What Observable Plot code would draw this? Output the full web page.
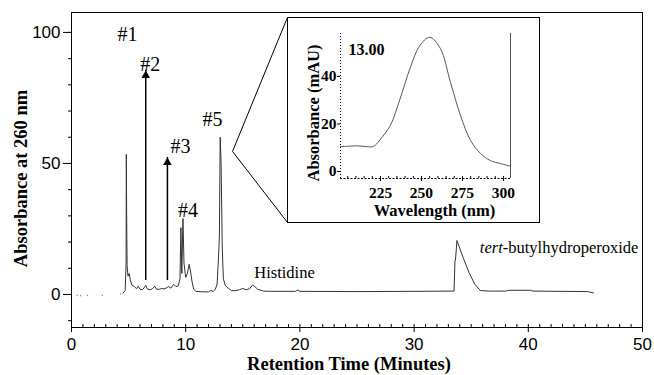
<!DOCTYPE html>
<html>
<head>
<meta charset="utf-8">
<script src="https://cdn.jsdelivr.net/npm/d3@7"></script>
<script src="https://cdn.jsdelivr.net/npm/@observablehq/plot@0.6"></script>
<style>
  html, body { margin: 0; padding: 0; background: #fff; }
  #wrap { position: relative; width: 654px; height: 375px; overflow: hidden; }
  #inset { position: absolute; left: 287px; top: 17px; width: 251px; height: 204px;
           border: 1px solid #000; background: #fff; }
  #inset svg, #main svg { display: block; }
</style>
</head>
<body>
<div id="wrap">
  <div id="main"></div>
  <div id="inset"></div>
</div>
<script>
// ---- Main chromatogram (Retention time in minutes, absorbance at 260 nm) ----
const traceTime = [4.5, 4.7, 4.78, 4.8, 4.83, 4.87, 4.95, 5.05, 5.15, 5.3, 5.5, 5.7, 5.85, 6.0, 6.2, 6.35, 6.5, 6.65, 6.9, 7.1, 7.3, 7.45, 7.7, 7.9, 8.1, 8.3, 8.5, 8.7, 8.95, 9.15, 9.35, 9.5, 9.58, 9.66, 9.76, 9.85, 10.0, 10.15, 10.3, 10.42, 10.55, 10.7, 10.9, 11.5, 12.0, 12.2, 12.4, 12.6, 12.75, 12.87, 12.95, 13.02, 13.1, 13.2, 13.3, 13.45, 13.7, 14.0, 14.3, 14.7, 15.0, 15.3, 15.6, 15.85, 16.0, 16.3, 16.8, 17.5, 19.6, 19.8, 20.0, 25.0, 30.0, 33.5, 33.58, 33.62, 33.75, 34.3, 34.8, 35.3, 35.8, 36.5, 38.0, 38.3, 40.2, 40.4, 45.2, 45.7];
const traceAbs  = [0.5, 1.5, 12, 53.5, 30, 11, 7, 8, 5.5, 3.5, 3, 2.2, 3.2, 2, 1.8, 2.5, 3.5, 2, 1.8, 2.2, 3.2, 2, 2, 2.3, 2.1, 2.5, 3, 2.4, 3.9, 3, 3.3, 6, 25.5, 8, 29, 12, 6.5, 8, 11.5, 9, 5, 2, 1.2, 1, 1, 1.5, 1.1, 2, 4, 14, 22, 60, 50, 18, 6, 3.5, 2.5, 1.5, 1.4, 1.8, 2.3, 1.8, 2.2, 3.6, 3.2, 2, 1.3, 1.2, 1.2, 1.7, 1.2, 1.1, 1.2, 1.3, 13, 13, 20.6, 14, 8.5, 4, 1.5, 1.3, 1.3, 1.6, 1.6, 1.3, 1.1, 0.6];
// faint dots before the run starts
const preTime = [0.5, 0.8, 1.4, 2.7, 4.3];
const preAbs  = [-0.3, -0.5, -0.3, -0.3, 0.2];

// peak labels
const peakLabels = ["#1", "#2", "#3", "#4", "#5"];
const peakLabelX = [4.9, 6.9, 9.55, 10.2, 12.35];
const peakLabelY = [99.2, 87.8, 56.5, 32.1, 66.8];

// arrows for peaks #2 and #3
const arrowX  = [6.5, 8.4];
const arrowY1 = [5.3, 5.3];
const arrowY2 = [85.5, 52.3];

// compound labels
const compoundNames = ["Histidine", "tert"];
const compoundX = [16.0, 35.8];
const compoundY = [8.4, 17.6];

// zoom lines from peak #5 to the inset box corners
const zoomFrom = {x: 14.1, y: 54.6};
const zoomToX = [18.91, 18.91];
const zoomToY = [105.7, 27.5];

const xMajor = [0, 10, 20, 30, 40, 50];
const xMinor = d3.range(0, 51, 1);
const yMajor = [0, 50, 100];
const yMinor = d3.range(-10, 101, 10);

// ---- Inset UV spectrum ----
const wavelength = [200.6, 205, 210, 215, 220, 222, 225, 231, 237, 243, 249, 255, 261.5, 267.7, 273.8, 280, 286, 292, 298, 304.3];
const mAU        = [10.5, 10.6, 10.8, 10.6, 10.4, 11.2, 13.6, 19.4, 30.7, 43.4, 53, 56.5, 51.8, 37.5, 23.6, 13, 7.6, 4.6, 3.4, 2.2];
const insetXTicks = [225, 250, 275, 300];
const insetXMinor = d3.range(205, 305, 5);
const insetYTicks = [0, 20, 40];
const insetNote = "13.00";

const trace = traceTime.map((t, i) => ({t, v: traceAbs[i]}));
const pre = preTime.map((t, i) => ({t, v: preAbs[i]}));
const labels = peakLabels.map((s, i) => ({s, x: peakLabelX[i], y: peakLabelY[i]}));
const arrows = arrowX.map((x, i) => ({x, y1: arrowY1[i], y2: arrowY2[i]}));
const zooms = zoomToX.map((x, i) => ({x1: zoomFrom.x, y1: zoomFrom.y, x2: x, y2: zoomToY[i]}));

const serif = "Liberation Serif, Times New Roman, serif";

const main = Plot.plot({
  width: 654,
  height: 375,
  marginLeft: 71,
  marginRight: 12,
  marginTop: 12,
  marginBottom: 48,
  style: "font-family: 'Liberation Sans', Arial, sans-serif; font-size: 17px; background: #fff; color: #000; overflow: visible;",
  x: {domain: [0, 50]},
  y: {domain: [-12.6, 107.6]},
  marks: [
    Plot.frame({stroke: "#000", strokeWidth: 1}),
    Plot.axisY(yMinor, {tickSize: 3, tickFormat: () => "", label: null}),
    Plot.axisY(yMajor, {tickSize: 8, tickPadding: 3, label: null}),
    Plot.axisX(xMinor, {tickSize: -3, tickFormat: () => "", label: null}),
    Plot.axisX(xMajor, {tickSize: 5, tickPadding: 5, label: null}),
    Plot.link(zooms, {x1: "x1", y1: "y1", x2: "x2", y2: "y2", stroke: "#000", strokeWidth: 1}),
    Plot.dot(pre, {x: "t", y: "v", r: 0.7, fill: "#888", stroke: null}),
    Plot.line(trace, {x: "t", y: "v", stroke: "#333", strokeWidth: 1}),
    Plot.ruleX(arrows, {x: "x", y1: "y1", y2: "y2", stroke: "#000", strokeWidth: 1.5}),
    Plot.dot(arrows, {x: "x", y: "y2", symbol: "triangle", r: 3.2, fill: "#000", stroke: null, dy: 5}),
    Plot.text(labels, {x: "x", y: "y", text: "s", fontFamily: serif, fontSize: 20, fill: "#000"}),
    Plot.text([compoundNames[0]], {x: compoundX[0], y: compoundY[0], text: d => d, fontFamily: serif, fontSize: 16.5, textAnchor: "start", fill: "#000"}),
    Plot.text(["Absorbance at 260 nm"], {frameAnchor: "left", dx: -50, dy: 8.5, rotate: -90, textAnchor: "middle", lineAnchor: "middle", text: d => d, fontFamily: serif, fontWeight: "bold", fontSize: 18.5, fill: "#000"}),
    Plot.text(["Retention Time (Minutes)"], {frameAnchor: "bottom", dx: -8, dy: 37, textAnchor: "middle", lineAnchor: "middle", text: d => d, fontFamily: serif, fontWeight: "bold", fontSize: 18.5, fill: "#000"})
  ]
});
document.getElementById("main").appendChild(main);

// tert-butylhydroperoxide label with italic prefix, placed through the main scales
{
  const xs = main.scale("x"), ys = main.scale("y");
  const px = xs.apply(compoundX[1]), py = ys.apply(compoundY[1]);
  const ns = "http://www.w3.org/2000/svg";
  const t = document.createElementNS(ns, "text");
  t.setAttribute("x", px);
  t.setAttribute("y", py);
  t.setAttribute("dy", "0.32em");
  t.setAttribute("text-anchor", "start");
  t.setAttribute("font-family", serif);
  t.setAttribute("font-size", "16.5");
  t.setAttribute("fill", "#000");
  const a = document.createElementNS(ns, "tspan");
  a.setAttribute("font-style", "italic");
  a.textContent = compoundNames[1];
  const b = document.createElementNS(ns, "tspan");
  b.textContent = "-butylhydroperoxide";
  t.appendChild(a); t.appendChild(b);
  main.appendChild(t);
}

const inset = Plot.plot({
  width: 251,
  height: 204,
  marginLeft: 52,
  marginRight: 29,
  marginTop: 15,
  marginBottom: 44,
  style: "font-family: 'Liberation Serif', 'Times New Roman', serif; font-weight: bold; font-size: 15.5px; background: #fff; color: #000; overflow: visible;",
  x: {domain: [200.6, 304.3]},
  y: {domain: [-2.95, 58.1]},
  marks: [
    Plot.ruleX([200.6], {stroke: "#000", strokeDasharray: "1,2"}),
    Plot.ruleX([304.3], {stroke: "#555"}),
    Plot.ruleY([-2.95], {stroke: "#000", strokeDasharray: "2,1.5"}),
    Plot.axisY(insetYTicks, {tickSize: 3, tickPadding: 1, label: null}),
    Plot.axisX(insetXMinor, {tickSize: -2, tickFormat: () => "", label: null}),
    Plot.axisX(insetXTicks, {tickSize: 3, tickPadding: 5, label: null}),
    Plot.line(wavelength.map((w, i) => ({w, a: mAU[i]})), {x: "w", y: "a", curve: "catmull-rom", stroke: "#444", strokeWidth: 0.9}),
    Plot.text([insetNote], {x: 205.5, y: 51.4, text: d => d, textAnchor: "start", fontSize: 16, fill: "#000"}),
    Plot.text(["Absorbance (mAU)"], {frameAnchor: "left", dx: -27, dy: 7, rotate: -90, textAnchor: "middle", lineAnchor: "middle", text: d => d, fontSize: 16.5, fill: "#000"}),
    Plot.text(["Wavelength (nm)"], {frameAnchor: "bottom", dx: 9, dy: 32, textAnchor: "middle", lineAnchor: "middle", text: d => d, fontSize: 16.5, fill: "#000"})
  ]
});
document.getElementById("inset").appendChild(inset);
</script>
</body>
</html>
